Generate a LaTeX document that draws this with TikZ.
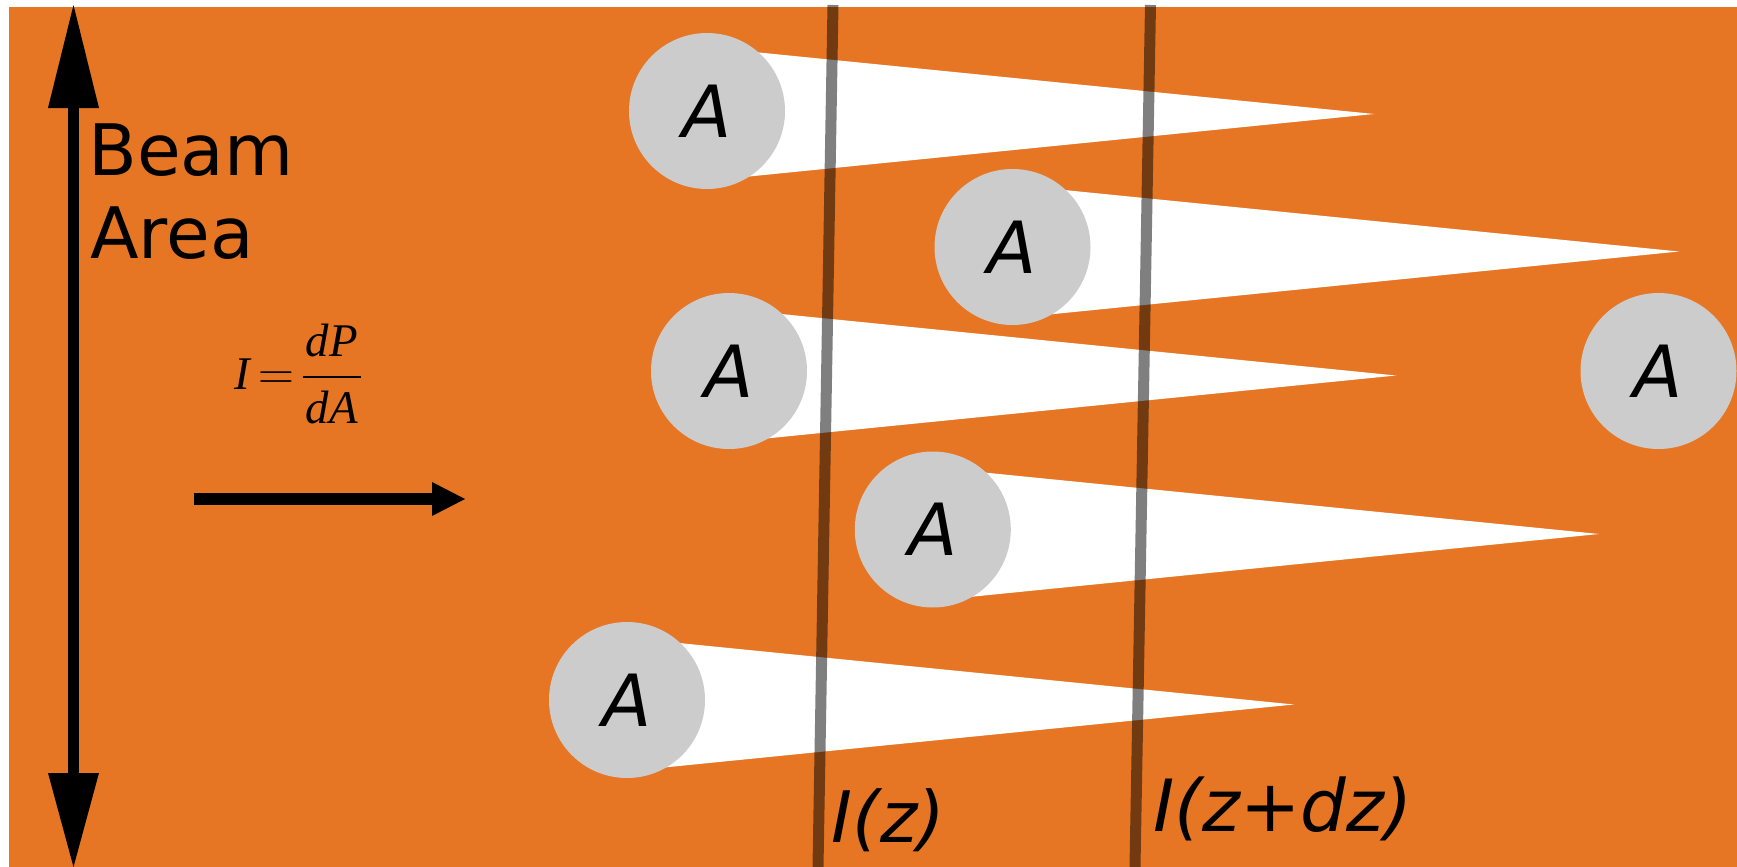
\documentclass[tikz,border=0pt]{standalone}
\usepackage{fontspec}
\setmainfont{DejaVu Sans}
\newfontfamily\tms{Liberation Serif}
\usepackage{amsmath}
\definecolor{beam}{RGB}{230,118,36}
\definecolor{part}{RGB}{204,204,204}
\newcommand{\tvar}[1]{\text{\tms\itshape #1}}
\begin{document}
\begin{tikzpicture}[x=0.5pt,y=-0.5pt,
  particle/.style={circle,fill=part,minimum size=78pt,inner sep=0pt,font=\fontsize{36}{42}\selectfont\itshape},
  plane/.style={line width=5.5pt,draw=black,draw opacity=0.5},
  lbl/.style={inner sep=0pt,font=\fontsize{35.5}{42}\selectfont},
  wedge/.style={fill=white},
  arrowbody/.style={fill=black}]
\useasboundingbox (0,0) rectangle (1737,867);
\fill[beam] (9,7) rectangle (1737,867);
% wakes
\foreach \cx/\cy/\tx/\ty in {707/111/1374/114, 1012.5/247/1679/251.5, 729/371/1396/375.5, 932.8/529.5/1599/534, 627/700/1294/704.5}
  \fill[wedge] (\cx,{\ty-0.1*(\tx-\cx)}) -- (\tx,\ty) -- (\cx,{\ty+0.1*(\tx-\cx)}) -- cycle;
% particles
\node[particle] (p1) at (707,111) {A};
\node[particle] (p2) at (1012.5,247) {A};
\node[particle] (p3) at (729,371) {A};
\node[particle] (p4) at (1658.5,371) {A};
\node[particle] (p5) at (932.8,529.5) {A};
\node[particle] (p6) at (627,700) {A};
% planes
\coordinate (z1top) at (833,5);
\coordinate (z1bot) at (818,867);
\coordinate (z2top) at (1150.5,5);
\coordinate (z2bot) at (1135,867);
\draw[plane] (z1top) -- (z1bot);
\draw[plane] (z2top) -- (z2bot);
% beam area arrow
\fill[arrowbody] (68.3,108) rectangle (79.3,773);
\fill[arrowbody] (73.5,5) -- (48,108) -- (99,108) -- cycle;
\fill[arrowbody] (48,773) -- (99,773) -- (73.5,867) -- cycle;
% propagation arrow
\fill[arrowbody] (194,493.3) rectangle (432,505);
\fill[arrowbody] (432,482) -- (465,499) -- (432,516) -- cycle;
% labels
\node[lbl,anchor=base west] (beam) at (88,175) {Beam};
\node[lbl,anchor=base west] (area) at (90,258) {Area};
\node[inner sep=0pt,font=\fontsize{23.4}{28}\selectfont] (formula) at (299,374) {$\tvar{I}\mskip3mu{=}\mskip2mu\dfrac{\hspace{1.5pt}\tvar{dP}\hspace{1.5pt}}{\hspace{1.5pt}\tvar{dA}\hspace{1.5pt}}$};
\node[lbl,anchor=base west,font=\fontsize{35.5}{42}\selectfont\itshape] (iz) at (831,842) {I(z)};
\node[lbl,anchor=base west,font=\fontsize{36}{42}\selectfont\itshape] (izdz) at (1153,831) {I(z+dz)};
\end{tikzpicture}
\end{document}
